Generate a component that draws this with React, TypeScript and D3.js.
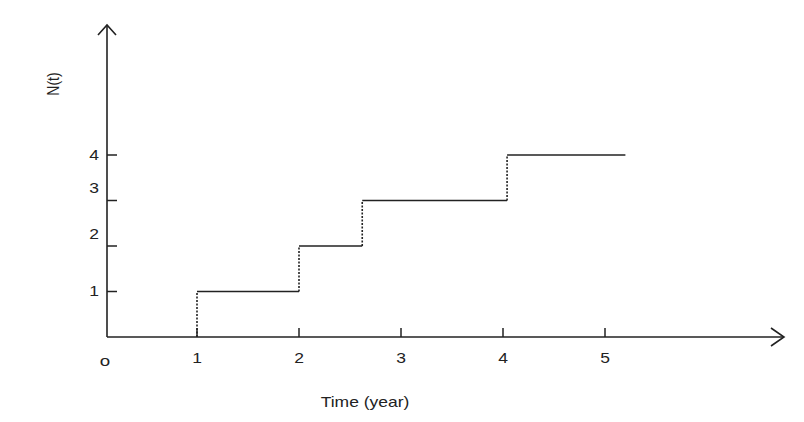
import React from "react";
import * as d3 from "d3";

const stepTimes = [1, 2, 2.62, 4.04];
const stepLevels = [1, 2, 3, 4];
const endTime = 5.2;
const xTicks = [1, 2, 3, 4, 5];
const xTickLabels = ["1", "2", "3", "4", "5"];
const yTicks = [1, 2, 3, 4];
const yTickLabels = ["1", "2", "3", "4"];
const originLabel = "o";
const xTitle = "Time (year)";
const yTitle = "N(t)";

const W = 804;
const H = 422;
const x = d3.scaleLinear().domain([0, 5]).range([95, 605]);
const y = d3.scaleLinear().domain([0, 4]).range([337, 155]);
const axisX0 = 107;
const axisY0 = 337;
const ink = "#222";
const font = "'Liberation Sans', Arial, Helvetica, sans-serif";
const SX = 1.25;

function Label({ px, py, text, anchor = "middle", size = 14 }: any) {
  return (
    <text
      transform={`translate(${px},${py}) scale(${SX},1)`}
      textAnchor={anchor}
      dominantBaseline="central"
      fontFamily={font}
      fontSize={size}
      fill="#222"
    >
      {text}
    </text>
  );
}

export default function App() {
  const horiz: string[] = [];
  const vert: string[] = [];
  const line = d3.line();
  stepTimes.forEach((t, i) => {
    const prev = i === 0 ? 0 : stepLevels[i - 1];
    const next = i + 1 < stepTimes.length ? stepTimes[i + 1] : endTime;
    vert.push(line([[x(t), y(prev)], [x(t), y(stepLevels[i])]]) as string);
    horiz.push(line([[x(t), y(stepLevels[i])], [x(next), y(stepLevels[i])]]) as string);
  });
  const yLabelShift = (v: number) => (v === 2 || v === 3 ? -12 : 0);

  return (
    <svg width={W} height={H} style={{ position: "absolute", left: 0, top: 0, background: "#fff" }}>
      {/* axes */}
      <line x1={axisX0} y1={axisY0} x2={axisX0} y2={25} stroke={ink} strokeWidth={1.6} />
      <path d={`M${axisX0 - 9},${35} L${axisX0},${25} L${axisX0 + 9},${35}`} fill="none" stroke={ink} strokeWidth={1.6} />
      <line x1={axisX0} y1={axisY0} x2={784} y2={axisY0} stroke={ink} strokeWidth={1.6} />
      <path d={`M771,${axisY0 - 9} L784,${axisY0} L771,${axisY0 + 9}`} fill="none" stroke={ink} strokeWidth={1.6} />

      {/* x ticks */}
      {xTicks.map((t, i) => (
        <g key={"xt" + t}>
          <line x1={x(t)} x2={x(t)} y1={axisY0} y2={axisY0 - 9} stroke={ink} strokeWidth={1.5} />
          <Label px={x(t)} py={358} text={xTickLabels[i]} />
        </g>
      ))}
      <Label px={105} py={361} text={originLabel} size={15} />

      {/* y ticks */}
      {yTicks.map((v, i) => (
        <g key={"yt" + v}>
          <line x1={axisX0} x2={axisX0 + 10} y1={y(v)} y2={y(v)} stroke={ink} strokeWidth={1.5} />
          <Label px={99} py={y(v) + yLabelShift(v)} text={yTickLabels[i]} anchor="end" />
        </g>
      ))}

      {/* step function */}
      {horiz.map((d, i) => (
        <path key={"h" + i} d={d} fill="none" stroke={ink} strokeWidth={1.6} />
      ))}
      {vert.map((d, i) => (
        <path key={"v" + i} d={d} fill="none" stroke={ink} strokeWidth={1.6} strokeDasharray="2,1.5" />
      ))}

      {/* titles */}
      <Label px={365} py={402} text={xTitle} />
      <text
        transform="translate(53,84) rotate(-90) scale(1,1.15)"
        textAnchor="middle"
        dominantBaseline="central"
        fontFamily={font}
        fontSize={14}
        fill="#222"
      >
        {yTitle}
      </text>
    </svg>
  );
}
